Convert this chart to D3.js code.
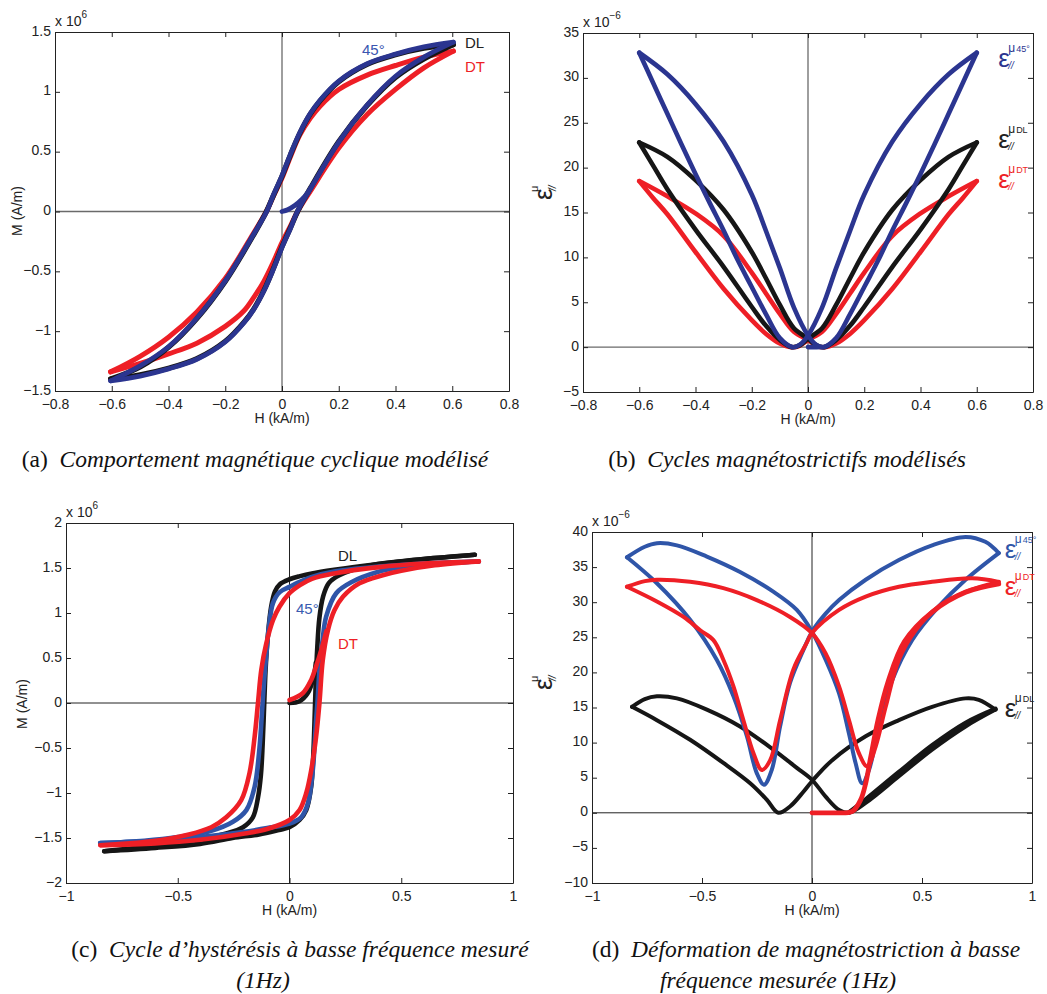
<!DOCTYPE html>
<html><head><meta charset="utf-8">
<script src="https://cdn.jsdelivr.net/npm/d3@7"></script>
<style>body{margin:0;background:#fff}svg{display:block}</style>
</head><body><svg id="c" width="1047" height="994"></svg>
<script>
// ---------------- tick values ----------------
const abXTicks = [-0.8,-0.6,-0.4,-0.2,0,0.2,0.4,0.6,0.8];
const aYTicks = [-1.5,-1,-0.5,0,0.5,1,1.5];
const bYTicks = [-5,0,5,10,15,20,25,30,35];
const cdXTicks = [-1,-0.5,0,0.5,1];
const cYTicks = [-2,-1.5,-1,-0.5,0,0.5,1,1.5,2];
const dYTicks = [-10,-5,0,5,10,15,20,25,30,35,40];

// ---------------- (a) modelled M(H), x1e6 ----------------
const aBlueDesc = [[0.604,1.415],[0.5,1.375],[0.4,1.315],[0.3,1.235],[0.2,1.09],[0.134,0.93],[0.1,0.82],[0.063,0.66],[0.03,0.48],[0,0.3],[-0.03,0.14],[-0.054,0],[-0.1,-0.19],[-0.2,-0.58],[-0.3,-0.89],[-0.4,-1.13],[-0.5,-1.29],[-0.604,-1.415]];
const aBlueAsc = [[-0.604,-1.415],[-0.5,-1.375],[-0.4,-1.315],[-0.3,-1.235],[-0.2,-1.09],[-0.134,-0.93],[-0.1,-0.82],[-0.063,-0.66],[-0.03,-0.48],[0,-0.3],[0.03,-0.14],[0.054,0],[0.1,0.19],[0.2,0.58],[0.3,0.89],[0.4,1.13],[0.5,1.29],[0.604,1.415]];
const aBlackDesc = [[0.604,1.395],[0.5,1.365],[0.4,1.31],[0.3,1.23],[0.2,1.085],[0.134,0.925],[0.1,0.815],[0.063,0.655],[0.03,0.475],[0,0.295],[-0.03,0.135],[-0.055,0],[-0.1,-0.195],[-0.2,-0.585],[-0.3,-0.895],[-0.4,-1.135],[-0.5,-1.30],[-0.604,-1.40]];
const aBlackAsc = [[-0.604,-1.40],[-0.5,-1.365],[-0.4,-1.31],[-0.3,-1.23],[-0.2,-1.085],[-0.134,-0.925],[-0.1,-0.815],[-0.063,-0.655],[-0.03,-0.475],[0,-0.295],[0.03,-0.135],[0.055,0],[0.1,0.195],[0.2,0.585],[0.3,0.885],[0.4,1.12],[0.5,1.275],[0.604,1.395]];
const aRedDesc = [[0.604,1.34],[0.5,1.29],[0.4,1.22],[0.3,1.14],[0.2,1.02],[0.134,0.88],[0.1,0.78],[0.063,0.64],[0.03,0.46],[0,0.28],[-0.03,0.13],[-0.055,0],[-0.1,-0.18],[-0.2,-0.56],[-0.3,-0.84],[-0.4,-1.05],[-0.5,-1.21],[-0.604,-1.34]];
const aRedAsc = [[-0.604,-1.34],[-0.5,-1.27],[-0.4,-1.19],[-0.3,-1.10],[-0.2,-0.96],[-0.134,-0.83],[-0.1,-0.72],[-0.063,-0.58],[-0.03,-0.42],[0,-0.26],[0.03,-0.12],[0.055,0],[0.1,0.17],[0.2,0.53],[0.3,0.81],[0.4,1.02],[0.5,1.20],[0.604,1.34]];
const aInit = [[0,0],[0.02,0.015],[0.045,0.05],[0.07,0.1],[0.09,0.155],[0.105,0.21]];

// ---------------- (b) modelled strain, x1e-6 ----------------
const bBlueAsc = [[-0.6,32.8],[-0.5,30.4],[-0.4,27.1],[-0.3,22.9],[-0.2,17.0],[-0.15,13.0],[-0.1,8.8],[-0.05,4.4],[0,1.3],[0.03,0.25],[0.055,0],[0.1,1.0],[0.15,3.7],[0.2,6.7],[0.25,9.7],[0.3,13.0],[0.35,16.1],[0.4,19.3],[0.45,22.6],[0.5,26.0],[0.55,29.4],[0.6,32.8]];
const bBlueDesc = [[0.6,32.8],[0.5,30.4],[0.4,27.1],[0.3,22.9],[0.2,17.0],[0.15,13.0],[0.1,8.8],[0.05,4.4],[0,1.3],[-0.03,0.25],[-0.055,0],[-0.1,1.0],[-0.15,3.7],[-0.2,6.7],[-0.25,9.7],[-0.3,13.0],[-0.35,16.1],[-0.4,19.3],[-0.45,22.6],[-0.5,26.0],[-0.55,29.4],[-0.6,32.8]];
const bBlackAsc = [[-0.6,22.8],[-0.5,21.2],[-0.4,18.6],[-0.3,15.3],[-0.2,10.6],[-0.15,7.7],[-0.1,4.7],[-0.05,2.1],[0,0.95],[0.03,0.2],[0.058,0],[0.1,0.8],[0.15,2.4],[0.2,4.5],[0.3,8.95],[0.4,13.1],[0.5,17.6],[0.55,20.2],[0.6,22.8]];
const bBlackDesc = [[0.6,22.8],[0.5,21.2],[0.4,18.6],[0.3,15.3],[0.2,10.6],[0.15,7.7],[0.1,4.7],[0.05,2.1],[0,0.95],[-0.03,0.2],[-0.058,0],[-0.1,0.8],[-0.15,2.4],[-0.2,4.5],[-0.3,8.95],[-0.4,13.1],[-0.5,17.6],[-0.55,20.2],[-0.6,22.8]];
const bRedAsc = [[-0.6,18.5],[-0.5,16.8],[-0.4,14.9],[-0.3,12.4],[-0.2,8.3],[-0.15,6.0],[-0.1,3.7],[-0.05,1.7],[0,0.8],[0.03,0.15],[0.06,0],[0.1,0.4],[0.15,1.5],[0.2,3.0],[0.3,6.5],[0.4,10.6],[0.5,14.8],[0.55,16.6],[0.6,18.5]];
const bRedDesc = [[0.6,18.5],[0.5,16.8],[0.4,14.9],[0.3,12.4],[0.2,8.3],[0.15,6.0],[0.1,3.7],[0.05,1.7],[0,0.8],[-0.03,0.15],[-0.06,0],[-0.1,0.4],[-0.15,1.5],[-0.2,3.0],[-0.3,6.5],[-0.4,10.6],[-0.5,14.8],[-0.55,16.6],[-0.6,18.5]];
const bInit = [[0,0],[0.03,0],[0.05,0.02]];

// ---------------- (c) measured M(H), x1e6 ----------------
const cBlackDesc = [[0.829,1.647],[0.6,1.60],[0.4,1.545],[0.2,1.48],[0.1,1.44],[0.047,1.41],[0,1.375],[-0.043,1.32],[-0.065,1.24],[-0.082,1.07],[-0.097,0.74],[-0.107,0.37],[-0.113,0],[-0.12,-0.45],[-0.128,-0.8],[-0.141,-1.05],[-0.164,-1.27],[-0.208,-1.38],[-0.283,-1.45],[-0.4,-1.51],[-0.6,-1.585],[-0.829,-1.647]];
const cBlackAsc = [[-0.829,-1.647],[-0.6,-1.61],[-0.4,-1.565],[-0.255,-1.5],[-0.136,-1.46],[-0.047,-1.41],[0,-1.38],[0.045,-1.30],[0.075,-1.19],[0.097,-0.93],[0.106,-0.6],[0.112,-0.2],[0.117,0.2],[0.124,0.6],[0.134,0.95],[0.15,1.18],[0.175,1.33],[0.223,1.42],[0.343,1.52],[0.5,1.575],[0.65,1.61],[0.829,1.647]];
const cBlackInit = [[0,0],[0.045,0.02],[0.082,0.11],[0.108,0.29],[0.118,0.45]];
const cBlueDesc = [[0.847,1.573],[0.6,1.55],[0.4,1.515],[0.2,1.46],[0.1,1.40],[0.04,1.34],[0,1.29],[-0.045,1.23],[-0.074,1.11],[-0.092,0.85],[-0.105,0.5],[-0.115,0.2],[-0.123,-0.1],[-0.134,-0.49],[-0.156,-0.93],[-0.193,-1.19],[-0.253,-1.32],[-0.35,-1.42],[-0.5,-1.49],[-0.65,-1.53],[-0.847,-1.555]];
const cBlueAsc = [[-0.847,-1.555],[-0.6,-1.53],[-0.4,-1.49],[-0.2,-1.43],[-0.1,-1.39],[0,-1.34],[0.052,-1.27],[0.082,-1.12],[0.104,-0.75],[0.119,-0.19],[0.125,0],[0.135,0.4],[0.148,0.7],[0.164,0.96],[0.209,1.22],[0.283,1.35],[0.387,1.45],[0.5,1.51],[0.65,1.545],[0.847,1.573]];
const cRedDesc = [[0.847,1.573],[0.6,1.55],[0.4,1.51],[0.2,1.44],[0.1,1.38],[0.047,1.31],[0,1.22],[-0.045,1.07],[-0.074,0.92],[-0.104,0.66],[-0.126,0.37],[-0.141,0],[-0.156,-0.375],[-0.179,-0.78],[-0.216,-1.08],[-0.283,-1.27],[-0.35,-1.38],[-0.45,-1.46],[-0.6,-1.53],[-0.846,-1.58]];
const cRedAsc = [[-0.846,-1.58],[-0.6,-1.56],[-0.4,-1.52],[-0.2,-1.45],[-0.1,-1.40],[0,-1.30],[0.045,-1.19],[0.075,-1.0],[0.097,-0.75],[0.119,-0.375],[0.134,0],[0.149,0.48],[0.172,0.81],[0.201,1.03],[0.239,1.18],[0.313,1.33],[0.417,1.42],[0.5,1.47],[0.65,1.53],[0.847,1.573]];
const cRedInit = [[0,0.033],[0.059,0.108],[0.097,0.256],[0.118,0.40],[0.141,0.58],[0.165,0.8]];

// ---------------- (d) measured strain, x1e-6 ----------------
const dBlueB1 = [[0.849,37.0],[0.788,38.6],[0.698,39.3],[0.546,38.1],[0.395,36.0],[0.244,33.2],[0.123,30.3],[0.06,28.3],[0,25.8],[-0.039,23.2],[-0.1,18.5],[-0.145,12.3],[-0.183,6.1],[-0.218,4.0],[-0.251,5.65],[-0.296,10.9],[-0.357,16.6],[-0.433,21.8],[-0.554,27.5],[-0.705,32.7],[-0.841,36.4]];
const dBlueB2 = [[-0.841,36.4],[-0.76,37.9],[-0.705,38.4],[-0.614,38.1],[-0.478,36.5],[-0.327,34.3],[-0.176,31.5],[-0.069,28.9],[0,25.8],[0.062,21.8],[0.123,17.0],[0.168,11.3],[0.198,7.1],[0.228,4.2],[0.259,6.1],[0.304,12.3],[0.365,18.9],[0.455,24.6],[0.576,29.4],[0.698,33.2],[0.849,37.0]];
const dRedB1 = [[0.849,32.9],[0.728,33.4],[0.546,32.9],[0.395,32.2],[0.244,30.8],[0.123,28.9],[0,25.6],[-0.024,24.2],[-0.085,20.4],[-0.145,13.2],[-0.19,7.5],[-0.228,6.1],[-0.266,8.5],[-0.312,13.2],[-0.357,18.0],[-0.403,21.8],[-0.448,24.6],[-0.508,26.0],[-0.584,27.9],[-0.705,30.1],[-0.841,32.2]];
const dRedB2 = [[-0.841,32.2],[-0.76,33.0],[-0.705,33.2],[-0.554,32.9],[-0.403,32.0],[-0.251,30.3],[-0.1,27.9],[0,25.6],[0.062,22.7],[0.123,18.0],[0.168,13.2],[0.213,8.5],[0.251,6.6],[0.289,9.4],[0.335,15.1],[0.395,21.8],[0.471,26.0],[0.576,29.4],[0.698,31.5],[0.849,32.9]];
const dRedInit = [[0,0],[0.092,0],[0.183,0.2],[0.221,1.85],[0.244,4.2],[0.266,7.8],[0.3,13.2],[0.345,18.6],[0.42,24.4],[0.546,28.6],[0.698,31.4],[0.849,32.6]];
const dBlackB1 = [[0.834,14.7],[0.758,16.1],[0.698,16.3],[0.546,15.1],[0.395,13.2],[0.244,10.9],[0.092,7.5],[0,4.5],[-0.039,3.0],[-0.1,0.9],[-0.153,0],[-0.205,1.85],[-0.281,4.2],[-0.403,7.1],[-0.554,10.4],[-0.705,13.2],[-0.818,15.1]];
const dBlackB2 = [[-0.818,15.1],[-0.76,16.2],[-0.705,16.6],[-0.614,16.3],[-0.478,14.7],[-0.327,12.3],[-0.176,9.0],[-0.069,6.4],[0,4.7],[0.062,2.3],[0.123,0.4],[0.168,0],[0.244,1.4],[0.395,5.2],[0.546,9.0],[0.698,12.3],[0.834,14.7]];
const dBlackBand = [[0.17,0.1],[0.244,1.9],[0.395,5.8],[0.546,9.6],[0.698,12.8],[0.834,14.8]];

// ---------------- drawing ----------------
const svg = d3.select("#c");
svg.append("rect").attr("width",1047).attr("height",994).attr("fill","#fff");
const NAVY="#2b3590", BLUE="#2f55a8", RED="#ee1f26", BLACK="#161616";
const SANS="'Liberation Sans', Arial, Helvetica, sans-serif";
const SERIF="'Liberation Serif', 'Times New Roman', serif";

function fmt(v){ const a=+Math.abs(v).toFixed(3); return (v<0?"\u2212":"")+String(a); }

function panel(o){
  const g = svg.append("g");
  const x = d3.scaleLinear().domain(o.xd).range([o.L,o.R]);
  const y = d3.scaleLinear().domain(o.yd).range([o.B,o.T]);
  const zl = g.append("g").attr("stroke",o.zc).attr("stroke-width",o.zw);
  zl.append("line").attr("x1",x(0)).attr("x2",x(0)).attr("y1",o.T).attr("y2",o.B);
  zl.append("line").attr("x1",o.L).attr("x2",o.R).attr("y1",y(0)).attr("y2",y(0));
  const curves = g.append("g");
  const axes = g.append("g");
  function ax(gen, tr, lab, pad){
    const a = axes.append("g").attr("transform",tr)
      .call(gen.tickSizeInner(-5).tickSizeOuter(0).tickPadding(pad).tickFormat(lab?fmt:()=>""));
    a.selectAll("path,line").attr("stroke","#222").attr("stroke-width",1);
    a.selectAll("text").attr("fill","#222").style("font-family",SANS).style("font-size","14px");
    return a;
  }
  ax(d3.axisBottom(x).tickValues(o.xt), `translate(0,${o.B})`, true, 8);
  ax(d3.axisTop(x).tickValues(o.xt), `translate(0,${o.T})`, false, 0);
  const yl = ax(d3.axisLeft(y).tickValues(o.yt), `translate(${o.L},0)`, true, 4);
  yl.selectAll("text").attr("dy","0.22em");
  ax(d3.axisRight(y).tickValues(o.yt), `translate(${o.R},0)`, false, 0);
  const ex = g.append("text").attr("x",o.L).attr("y",o.T-6).attr("fill","#222")
    .style("font-family",SANS).style("font-size","14px").text("x 10");
  ex.append("tspan").attr("dy",-8).style("font-size","10px").text(o.expo);
  g.append("text").attr("x",(o.L+o.R)/2).attr("y",o.B+32).attr("text-anchor","middle")
    .attr("fill","#222").style("font-family",SANS).style("font-size","14px").text("H (kA/m)");
  const line = d3.line().x(d=>x(d[0])).y(d=>y(d[1])).curve(d3.curveCatmullRom.alpha(0.5));
  function draw(data,color,w){
    const s = data.slice().sort((p,q)=>p[0]-q[0]);
    curves.append("path").attr("d",line(s)).attr("fill","none").attr("stroke",color)
      .attr("stroke-width",w).attr("stroke-linejoin","round").attr("stroke-linecap","round");
  }
  return {g,x,y,draw};
}

function mLabel(p, cx, cy){
  p.g.append("text").attr("transform",`translate(${cx},${cy}) rotate(-90)`).attr("text-anchor","middle")
    .attr("fill","#222").style("font-family",SANS).style("font-size","14px").text("M (A/m)");
}
function epsYLabel(p, bx, cy){
  const t = p.g.append("g").attr("transform",`translate(${bx},${cy}) rotate(-90)`).attr("fill","#222").style("font-family",SANS);
  t.append("text").attr("x",-7).attr("y",0).style("font-size","26px").text("\u03b5");
  t.append("text").attr("x",1).attr("y",-14).style("font-size","11px").text("\u03bc");
  t.append("text").attr("x",2).attr("y",4).style("font-size","10px").style("font-style","italic").text("//");
}
function epsLabel(p, H, E, sup, color){
  const t = p.g.append("g").attr("transform",`translate(${p.x(H)},${p.y(E)})`).attr("fill",color).style("font-family",SANS);
  t.append("text").attr("x",0).attr("y",0).style("font-size","26px").text("\u03b5");
  t.append("text").attr("x",10).attr("y",-15).style("font-size","12px").text("\u03bc");
  t.append("text").attr("x",18).attr("y",-15).style("font-size","9px").text(sup);
  t.append("text").attr("x",10).attr("y",2).style("font-size","10px").style("font-style","italic").text("//");
}
function txt(p,H,V,s,color){
  p.g.append("text").attr("x",p.x(H)).attr("y",p.y(V)).attr("fill",color)
    .style("font-family",SANS).style("font-size","15px").text(s);
}

// ---- (a)
const pa = panel({L:55,R:509,T:32,B:391,xd:[-0.8,0.8],yd:[-1.5,1.5],xt:abXTicks,yt:aYTicks,expo:"6",zc:"#6a6a6a",zw:1.3});
pa.draw(aRedDesc,RED,5); pa.draw(aRedAsc,RED,5);
pa.draw(aBlackDesc,BLACK,5.2); pa.draw(aBlackAsc,BLACK,5.2);
pa.draw(aBlueDesc,NAVY,4.8); pa.draw(aBlueAsc,NAVY,4.8); pa.draw(aInit,NAVY,4.8);
mLabel(pa,22,211);
txt(pa,0.282,1.31,"45°","#3a55b0");
txt(pa,0.645,1.366,"DL","#222");
txt(pa,0.645,1.166,"DT",RED);

// ---- (b)
const pb = panel({L:583,R:1033,T:33,B:392,xd:[-0.8,0.8],yd:[-5,35],xt:abXTicks,yt:bYTicks,expo:"\u22126",zc:"#6a6a6a",zw:1.3});
pb.draw(bRedAsc,RED,4.6); pb.draw(bRedDesc,RED,4.6);
pb.draw(bBlackAsc,BLACK,4.6); pb.draw(bBlackDesc,BLACK,4.6);
pb.draw(bBlueAsc,NAVY,4.6); pb.draw(bBlueDesc,NAVY,4.6); pb.draw(bInit,NAVY,4.6);
epsYLabel(pb,552,193);
epsLabel(pb,0.676,31.2,"45°",NAVY);
epsLabel(pb,0.676,22.2,"DL","#222");
epsLabel(pb,0.676,17.7,"DT",RED);

// ---- (c)
const pc = panel({L:66,R:513,T:523,B:883,xd:[-1,1],yd:[-2,2],xt:cdXTicks,yt:cYTicks,expo:"6",zc:"#222",zw:1});
pc.draw(cBlackDesc,BLACK,4.6); pc.draw(cBlackAsc,BLACK,4.6); pc.draw(cBlackInit,BLACK,4.6);
pc.draw(cBlueDesc,BLUE,4.6); pc.draw(cBlueAsc,BLUE,4.6);
pc.draw(cRedDesc,RED,4.6); pc.draw(cRedAsc,RED,4.6); pc.draw(cRedInit,RED,4.6);
mLabel(pc,27,704);
txt(pc,0.217,1.58,"DL","#222");
txt(pc,0.029,0.99,"45°","#3a5bb0");
txt(pc,0.217,0.60,"DT",RED);

// ---- (d)
const pd = panel({L:592,R:1032,T:532,B:883,xd:[-1,1],yd:[-10,40],xt:cdXTicks,yt:dYTicks,expo:"\u22126",zc:"#222",zw:1});
pd.draw(dBlackB1,BLACK,4); pd.draw(dBlackB2,BLACK,4); pd.draw(dBlackBand,BLACK,4.5);
pd.draw(dBlueB1,BLUE,4); pd.draw(dBlueB2,BLUE,4);
pd.draw(dRedB1,RED,4); pd.draw(dRedB2,RED,4); pd.draw(dRedInit,RED,4.8);
epsYLabel(pd,552,683);
epsLabel(pd,0.876,36.3,"45°",BLUE);
epsLabel(pd,0.876,31.0,"DT",RED);
epsLabel(pd,0.876,13.7,"DL","#222");

// ---- captions
function caption(cx, y, tag, body){
  const t = svg.append("text").attr("x",cx).attr("y",y).attr("text-anchor","middle").attr("fill","#111")
    .style("font-family",SERIF).style("font-size","23.5px");
  if(tag){ t.append("tspan").text(tag+"\u00a0\u00a0"); }
  t.append("tspan").style("font-style","italic").text(body);
}
caption(255,467,"(a)","Comportement magnétique cyclique modélisé");
caption(787,467,"(b)","Cycles magnétostrictifs modélisés");
caption(300,957,"(c)","Cycle d’hystérésis à basse fréquence mesuré");
caption(263,988,null,"(1Hz)");
caption(806,957,"(d)","Déformation de magnétostriction à basse");
caption(778,988,null,"fréquence mesurée (1Hz)");
</script></body></html>
